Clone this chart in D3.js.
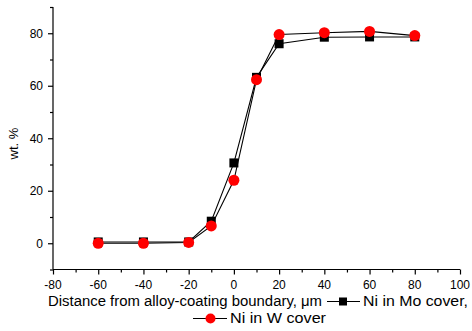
<!DOCTYPE html>
<html><head><meta charset="utf-8">
<script src="https://cdn.jsdelivr.net/npm/d3@7"></script>
<style>body{margin:0;background:#fff}svg{display:block}text{font-family:"Liberation Sans",Arial,sans-serif}</style>
</head><body>
<svg id="c" width="472" height="331"></svg>
<script>
const distance = [-60, -40, -20, -10, 0, 10, 20, 40, 60, 80];
const niMo = [0.5, 0.5, 0.5, 8.4, 30.6, 63.2, 76.0, 78.5, 78.6, 78.6];
const niW  = [0.0, 0.0, 0.3, 6.6, 24.0, 62.3, 79.5, 80.2, 80.7, 79.1];
const xTicks = [-80, -60, -40, -20, 0, 20, 40, 60, 80, 100];
const yTicks = [0, 20, 40, 60, 80];
const xTitle = "Distance from alloy-coating boundary, \u03bcm";
const legendMo = "Ni  in Mo cover,";
const legendW = "Ni in W cover";
const yTitle = "wt. %";

const svg = d3.select("#c");
const x = d3.scaleLinear().domain([-80, 100]).range([53, 460]);
const y = d3.scaleLinear().domain([-10, 90]).range([269.5, 7]);

// axes
const gx = svg.append("g").attr("transform", `translate(0,${y(-10)})`);
gx.call(d3.axisBottom(x).tickValues(d3.range(-80, 101, 10)).tickSize(3).tickFormat(""));
gx.call(g => g.selectAll(".tick").filter(d => xTicks.includes(d)).select("line").attr("y2", 5));
gx.selectAll(".domain").attr("d", `M${x(-80)},0H${x(100)}`);
xTicks.forEach(v => gx.append("text").attr("x", x(v)).attr("y", 19.5).attr("text-anchor", "middle")
  .attr("font-size", 12).attr("fill", "#000").text(v));

const gy = svg.append("g").attr("transform", `translate(${x(-80)},0)`);
gy.call(d3.axisLeft(y).tickValues(d3.range(-10, 91, 10)).tickSize(3).tickFormat(""));
gy.call(g => g.selectAll(".tick").filter(d => yTicks.includes(d)).select("line").attr("x2", -5));
gy.selectAll(".domain").attr("d", `M0,${y(-10)}V${y(90)}`);
yTicks.forEach(v => gy.append("text").attr("x", -10).attr("y", y(v) + 4.5).attr("text-anchor", "end")
  .attr("font-size", 12).attr("fill", "#000").text(v));
svg.selectAll(".domain, .tick line").attr("stroke", "#000").attr("stroke-width", 1.2);

svg.append("text").attr("transform", `translate(18,${y(38)}) rotate(-90)`).attr("text-anchor", "middle")
  .attr("font-size", 13).text(yTitle);

// lines
const line = d3.line().x((d, i) => x(distance[i])).y(d => y(d));
[niMo, niW].forEach(s => {
  svg.append("path").attr("d", line(s)).attr("fill", "none").attr("stroke", "#fff").attr("stroke-width", 3);
});
[niMo, niW].forEach(s => {
  svg.append("path").attr("d", line(s)).attr("fill", "none").attr("stroke", "#000").attr("stroke-width", 1.1);
});
svg.selectAll(".sq").data(niMo).enter().append("rect")
  .attr("x", (d, i) => x(distance[i]) - 4.5).attr("y", d => y(d) - 4.5)
  .attr("width", 9).attr("height", 9).attr("fill", "#000");
svg.selectAll(".ci").data(niW).enter().append("circle")
  .attr("cx", (d, i) => x(distance[i])).attr("cy", d => y(d)).attr("r", 5.5).attr("fill", "#ff0000");

// title + legend
svg.append("text").attr("x", 48).attr("y", 306).attr("font-size", 14)
  .attr("textLength", 274).attr("lengthAdjust", "spacingAndGlyphs").text(xTitle);
svg.append("line").attr("x1", 327).attr("x2", 360).attr("y1", 301.5).attr("y2", 301.5).attr("stroke", "#000").attr("stroke-width", 1.2);
svg.append("rect").attr("x", 339).attr("y", 297.5).attr("width", 8).attr("height", 8).attr("fill", "#000");
svg.append("text").attr("x", 363).attr("y", 306).attr("font-size", 14)
  .attr("textLength", 105).attr("lengthAdjust", "spacingAndGlyphs").text(legendMo);

svg.append("line").attr("x1", 193).attr("x2", 227).attr("y1", 318.5).attr("y2", 318.5).attr("stroke", "#000").attr("stroke-width", 1.2);
svg.append("circle").attr("cx", 210.5).attr("cy", 318.5).attr("r", 5).attr("fill", "#ff0000");
svg.append("text").attr("x", 230).attr("y", 323).attr("font-size", 14)
  .attr("textLength", 96).attr("lengthAdjust", "spacingAndGlyphs").text(legendW);
</script>
</body></html>
